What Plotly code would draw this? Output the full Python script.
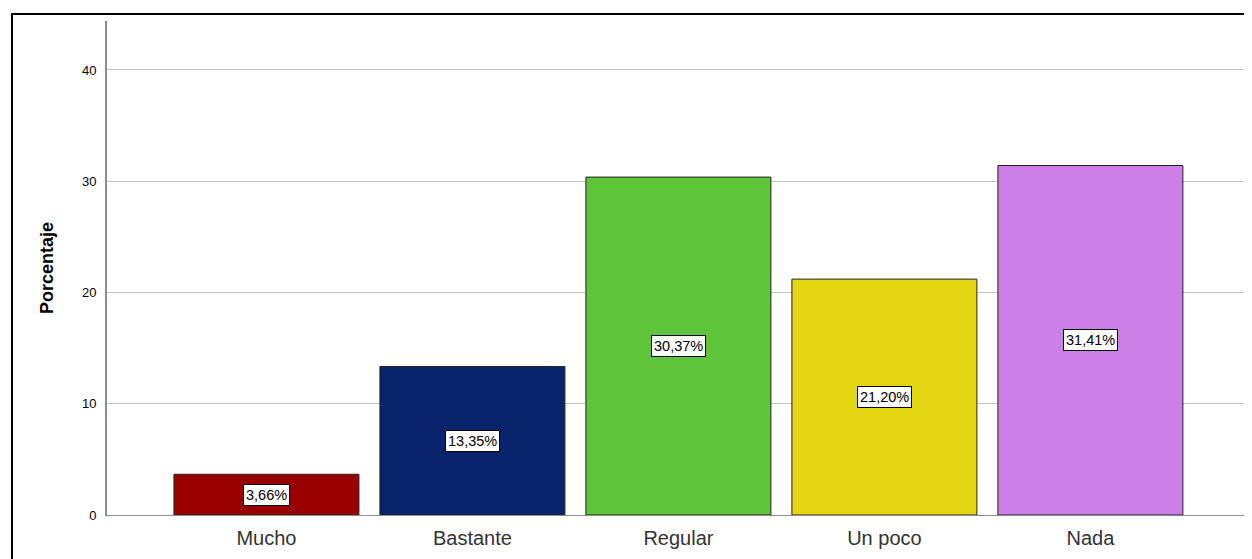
import plotly.graph_objects as go

categorias = ["Mucho", "Bastante", "Regular", "Un poco", "Nada"]
porcentajes = [3.66, 13.35, 30.37, 21.20, 31.41]
colores = ["#990000", "#0a246b", "#5ec43a", "#e3d511", "#cc7fe6"]
etiquetas = ["3,66%", "13,35%", "30,37%", "21,20%", "31,41%"]

fig = go.Figure()

fig.add_trace(go.Bar(
    x=categorias,
    y=porcentajes,
    marker=dict(color=colores, line=dict(color="#222222", width=1)),
    width=0.898,
    hoverinfo="x+y",
))

for cat, val, txt in zip(categorias, porcentajes, etiquetas):
    fig.add_annotation(
        x=cat, y=val / 2, text=txt, showarrow=False,
        font=dict(family="Arial, Liberation Sans", size=14.5, color="black"),
        bgcolor="white", bordercolor="black", borderwidth=1, borderpad=2,
    )

# marco exterior
fig.add_shape(
    type="rect", xref="paper", yref="paper",
    x0=(11 - 106) / 1142, x1=1.05, y0=-0.2, y1=(514 - 13) / 494,
    line=dict(color="black", width=2), fillcolor="rgba(0,0,0,0)",
    layer="below",
)

fig.update_layout(
    width=1252, height=559,
    margin=dict(l=99, r=11, t=13, b=52),
    plot_bgcolor="white", paper_bgcolor="white",
    showlegend=False,
    font=dict(family="Arial, Liberation Sans", color="black"),
    xaxis=dict(
        range=[-0.774, 4.77], showgrid=False,
        showline=True, linecolor="#8c8c8c", linewidth=1,
        ticks="", tickfont=dict(size=20, color="#333333"),
        ticklabelstandoff=5,
    ),
    yaxis=dict(
        range=[0, 44.4], tickvals=[0, 10, 20, 30, 40],
        showgrid=True, gridcolor="#c4c4c4", gridwidth=1,
        showline=True, linecolor="#8c8c8c", linewidth=2,
        ticks="", tickfont=dict(size=13), zeroline=False,
        ticklabelstandoff=6,
        title=dict(text="<b>Porcentaje</b>", font=dict(size=18), standoff=24),
    ),
)

fig.write_html("out.html")
